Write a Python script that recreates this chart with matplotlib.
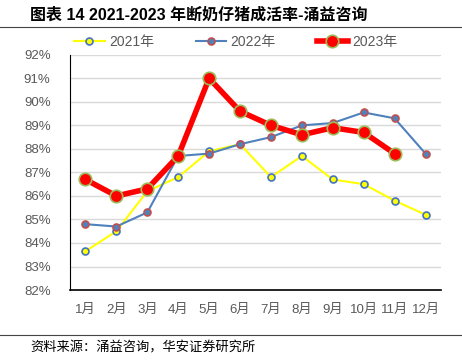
import matplotlib
matplotlib.use("Agg")
import matplotlib.pyplot as plt
from matplotlib.lines import Line2D

plt.rcParams['font.family'] = ['Liberation Sans', 'Noto Sans CJK SC', 'DejaVu Sans']

months = ["1月", "2月", "3月", "4月", "5月", "6月", "7月", "8月", "9月", "10月", "11月", "12月"]
rate_2021 = [83.65, 84.5, 86.2, 86.8, 87.9, 88.2, 86.8, 87.7, 86.7, 86.5, 85.8, 85.2]
rate_2022 = [84.8, 84.7, 85.3, 87.7, 87.8, 88.2, 88.5, 89.0, 89.1, 89.55, 89.3, 87.8]
rate_2023 = [86.7, 86.0, 86.3, 87.7, 91.0, 89.6, 89.0, 88.6, 88.9, 88.7, 87.8]
yticks = list(range(82, 93))

fig = plt.figure(figsize=(4.62, 3.63), dpi=100)
ax = fig.add_axes([0.1515, 0.201, 0.803, 0.648])

x = list(range(len(months)))
ax.plot(x, rate_2021, color="#FFFF00", lw=1.5, marker="o", ms=5,
        mfc="#FFFF00", mec="#4472C4", mew=1.2, label="2021年", zorder=3)
ax.plot(x, rate_2022, color="#4F81BD", lw=1.5, marker="o", ms=5,
        mfc="#4F81BD", mec="#C0504D", mew=1.2, label="2022年", zorder=4)
ax.plot(x[:len(rate_2023)], rate_2023, color="#FF0000", lw=4, marker="o", ms=9,
        mfc="#FF0000", mec="#9BBB59", mew=1.2, label="2023年", zorder=5)

ax.set_xlim(-0.5, len(months) - 0.5)
ax.set_ylim(82, 92)
ax.set_yticks(yticks)
ax.set_yticklabels([f"{v}%" for v in yticks])
ax.set_xticks(x)
ax.set_xticklabels(months)
ax.yaxis.grid(True, color="#D9D9D9", lw=1)
ax.set_axisbelow(True)
ax.tick_params(axis="both", length=0, labelsize=9.5, colors="#595959", pad=10)
ax.tick_params(axis="y", pad=14)
for s in ["top", "right"]:
    ax.spines[s].set_visible(False)
ax.spines["left"].set_color("#000000")
ax.spines["bottom"].set_color("#000000")
ax.spines["bottom"].set_linewidth(1.2)

leg = fig.legend(loc="center", bbox_to_anchor=(0.51, 0.884), ncol=3, frameon=False,
                 fontsize=10, columnspacing=3.0, handlelength=2.2, handletextpad=0.3)
for t in leg.get_texts():
    t.set_color("#595959")

fig.text(0.065, 0.958, "图表 14 2021-2023 年断奶仔猪成活率-涌益咨询", fontsize=11.5,
         fontweight="bold", va="center", ha="left")
fig.add_artist(Line2D([0, 1], [0.925, 0.925], color="#444444", lw=0.8))
fig.add_artist(Line2D([0, 1], [0.077, 0.077], color="#444444", lw=0.8))
fig.text(0.065, 0.041, "资料来源：涌益咨询，华安证券研究所", fontsize=9.5,
         va="center", ha="left")

fig.savefig("out.png", dpi=100)
